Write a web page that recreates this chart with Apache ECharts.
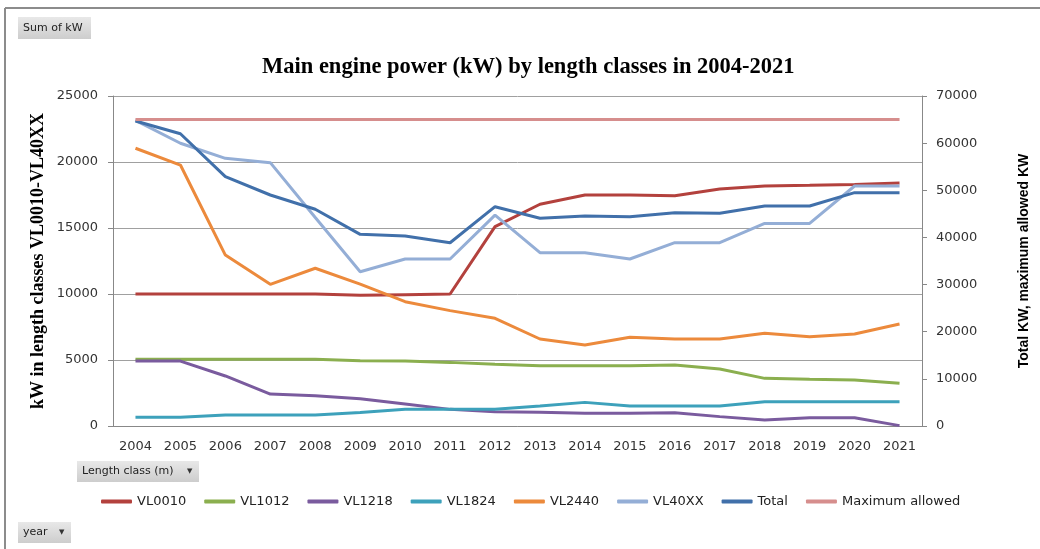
<!DOCTYPE html>
<html>
<head>
<meta charset="utf-8">
<script src="https://cdn.jsdelivr.net/npm/echarts@6/dist/echarts.min.js"></script>
<style>
  html, body { margin: 0; padding: 0; background: #fff; }
  #main { width: 1040px; height: 549px; }
</style>
</head>
<body>
<div id="main"></div>
<script>
  // years on the x axis
  var years = ['2004', '2005', '2006', '2007', '2008', '2009', '2010', '2011', '2012',
    '2013', '2014', '2015', '2016', '2017', '2018', '2019', '2020', '2021'];

  // left axis series (kW by length class)
  var vl0010 = [10000, 10000, 10000, 10000, 10000, 9900, 9950, 10000, 15100, 16800, 17500, 17500, 17450, 17950, 18180, 18230, 18300, 18400];
  var vl1012 = [5050, 5050, 5050, 5050, 5050, 4950, 4920, 4820, 4670, 4570, 4570, 4570, 4620, 4320, 3610, 3540, 3480, 3230];
  var vl1218 = [4920, 4920, 3790, 2420, 2300, 2060, 1670, 1260, 1080, 1050, 960, 960, 1010, 710, 450, 630, 630, 30];
  var vl1824 = [660, 660, 830, 830, 830, 1020, 1260, 1260, 1260, 1510, 1790, 1510, 1510, 1510, 1840, 1840, 1840, 1840];
  var vl2440 = [21040, 19770, 12950, 10730, 11950, 10750, 9420, 8740, 8160, 6590, 6140, 6720, 6590, 6590, 7020, 6770, 6970, 7730];
  var vl40xx = [23150, 21420, 20280, 19950, 15800, 11690, 12650, 12650, 15980, 13130, 13130, 12650, 13890, 13890, 15350, 15350, 18180, 18180];

  // right axis series
  var total = [64700, 62000, 52900, 49000, 45970, 40660, 40300, 38880, 46520, 44060, 44550, 44400, 45250, 45120, 46670, 46670, 49500, 49500];
  var maxAllowed = [65000, 65000, 65000, 65000, 65000, 65000, 65000, 65000, 65000, 65000, 65000, 65000, 65000, 65000, 65000, 65000, 65000, 65000];

  var seriesNames = ['VL0010', 'VL1012', 'VL1218', 'VL1824', 'VL2440', 'VL40XX', 'Total', 'Maximum allowed'];
  var seriesColors = ['#B3413D', '#8BAF4F', '#7A5B9E', '#3DA1BB', '#EC8A3C', '#94AED6', '#4170AA', '#D68E8D'];
  var seriesData = [vl0010, vl1012, vl1218, vl1824, vl2440, vl40xx, total, maxAllowed];
  var seriesAxis = [0, 0, 0, 0, 0, 0, 1, 1];

  var axisFont = 'DejaVu Sans';

  function plainNumber(v) {
    return String(v);
  }

  function pivotButton(x, y, w, h, label, arrow) {
    var children = [{
      type: 'rect',
      shape: { x: 0, y: 0, width: w, height: h },
      style: {
        fill: new echarts.graphic.LinearGradient(0, 0, 0, 1, [
          { offset: 0, color: '#e8e8e8' },
          { offset: 1, color: '#cdcdcd' }
        ])
      }
    }, {
      type: 'text',
      x: 5, y: h / 2,
      style: { text: label, font: '11px "DejaVu Sans"', fill: '#222', verticalAlign: 'middle' }
    }];
    if (arrow) {
      children.push({
        type: 'text',
        x: w - 12, y: h / 2,
        style: { text: '▼', font: '7px "DejaVu Sans"', fill: '#333', verticalAlign: 'middle' }
      });
    }
    return { type: 'group', x: x, y: y, children: children };
  }

  var chartDom = document.getElementById('main');
  var myChart = echarts.init(chartDom);

  var option = {
    backgroundColor: '#fff',
    animation: false,
    title: {
      text: 'Main engine power (kW) by length classes in 2004-2021',
      left: 262,
      top: 56,
      padding: 0,
      textStyle: {
        fontFamily: 'Liberation Serif',
        fontWeight: 'bold',
        fontSize: 22.5,
        color: '#000'
      }
    },
    legend: {
      data: seriesNames,
      left: 96,
      top: 490,
      itemGap: 18,
      itemWidth: 31,
      itemHeight: 4,
      icon: 'roundRect',
      textStyle: { fontFamily: axisFont, fontSize: 13, color: '#222' }
    },
    grid: { left: 113, right: 118, top: 96, bottom: 123 },
    xAxis: {
      type: 'category',
      data: years,
      axisLine: { lineStyle: { color: '#888' } },
      axisTick: { length: 5, lineStyle: { color: '#888' } },
      axisLabel: { margin: 14, fontFamily: axisFont, fontSize: 13, color: '#333' }
    },
    yAxis: [{
      type: 'value',
      min: 0,
      max: 25000,
      interval: 5000,
      name: 'kW in length classes VL0010-VL40XX',
      nameLocation: 'middle',
      nameRotate: 90,
      nameGap: 66,
      nameMoveOverlap: false,
      nameTextStyle: { fontFamily: 'Liberation Serif', fontWeight: 'bold', fontSize: 18, color: '#000' },
      axisLine: { show: true, lineStyle: { color: '#888' } },
      axisTick: { show: true, length: 5, lineStyle: { color: '#888' } },
      axisLabel: { margin: 15, fontFamily: axisFont, fontSize: 13, color: '#333', formatter: plainNumber },
      splitLine: { lineStyle: { color: '#a0a0a0', width: 1 } }
    }, {
      type: 'value',
      min: 0,
      max: 70000,
      interval: 10000,
      name: 'Total KW, maximum allowed KW',
      nameLocation: 'middle',
      nameRotate: 90,
      nameGap: 95,
      nameMoveOverlap: false,
      nameTextStyle: { fontFamily: 'Liberation Sans', fontWeight: 'bold', fontSize: 14, color: '#000' },
      axisLine: { show: true, lineStyle: { color: '#888' } },
      axisTick: { show: true, length: 5, lineStyle: { color: '#888' } },
      axisLabel: { margin: 14, fontFamily: axisFont, fontSize: 13, color: '#333', formatter: plainNumber },
      splitLine: { show: false }
    }],
    series: seriesNames.map(function (name, i) {
      return {
        name: name,
        type: 'line',
        yAxisIndex: seriesAxis[i],
        data: seriesData[i],
        color: seriesColors[i],
        symbol: 'none',
        lineStyle: { width: 3, color: seriesColors[i] }
      };
    }),
    graphic: [
      { type: 'line', shape: { x1: 5, y1: 8, x2: 1040, y2: 8 }, style: { stroke: '#8c8c8c', lineWidth: 2 } },
      { type: 'line', shape: { x1: 5, y1: 8, x2: 5, y2: 549 }, style: { stroke: '#8c8c8c', lineWidth: 2 } },
      pivotButton(18, 17, 73, 22, 'Sum of kW', false),
      pivotButton(77, 461, 122, 21, 'Length class (m)', true),
      pivotButton(18, 522, 53, 21, 'year', true)
    ]
  };

  myChart.setOption(option);
</script>
</body>
</html>
